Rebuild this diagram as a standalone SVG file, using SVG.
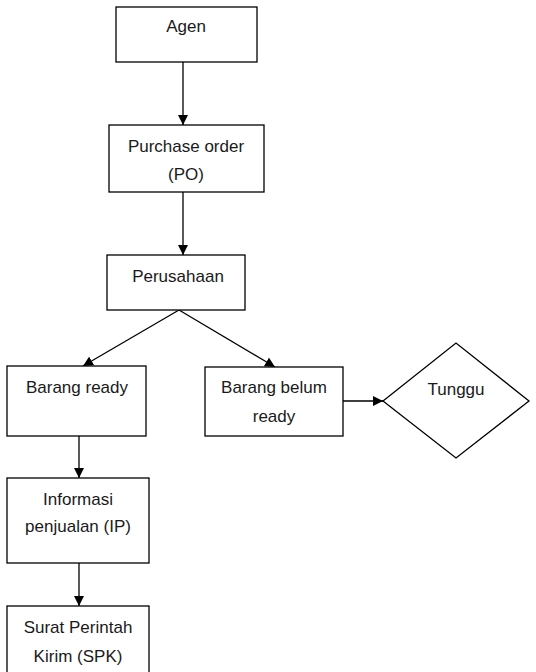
<svg xmlns="http://www.w3.org/2000/svg" width="536" height="672" viewBox="0 0 536 672">
<defs>
<marker id="arr" viewBox="0 0 10 10" refX="10" refY="5" markerWidth="10" markerHeight="10" markerUnits="userSpaceOnUse" orient="auto">
<path d="M0,0 L10,5 L0,10 z" fill="#000"/>
</marker>
<style>
.box{fill:#fff;stroke:#000;stroke-width:1.3}
.t{font-family:"Liberation Sans",Arial,sans-serif;font-size:17px;fill:#1a1a1a;text-anchor:middle}
.c{stroke:#000;stroke-width:1.3;fill:none;marker-end:url(#arr)}
</style>
</defs>
<rect width="536" height="672" fill="#fff"/>
<g id="connectors">
<line class="c" x1="183" y1="62" x2="183" y2="125"/>
<line class="c" x1="183" y1="192" x2="183" y2="255"/>
<line class="c" x1="179" y1="310" x2="83" y2="366"/>
<line class="c" x1="179" y1="310" x2="275" y2="367"/>
<line class="c" x1="343" y1="401" x2="383" y2="401"/>
<line class="c" x1="79" y1="436" x2="79" y2="478"/>
<line class="c" x1="79" y1="563" x2="79" y2="606"/>
</g>
<g id="agen">
<rect class="box" x="116" y="7" width="141" height="55"/>
<text class="t" x="186" y="32">Agen</text>
</g>
<g id="po">
<rect class="box" x="109" y="125" width="155" height="67"/>
<text class="t" x="186" y="152">Purchase order</text>
<text class="t" x="186" y="180">(PO)</text>
</g>
<g id="perusahaan">
<rect class="box" x="107" y="255" width="138" height="55"/>
<text class="t" x="178" y="282">Perusahaan</text>
</g>
<g id="barang-ready">
<rect class="box" x="7" y="366" width="139" height="70"/>
<text class="t" x="77" y="393">Barang ready</text>
</g>
<g id="barang-belum-ready">
<rect class="box" x="205" y="367" width="138" height="69"/>
<text class="t" x="274" y="393">Barang belum</text>
<text class="t" x="274" y="422">ready</text>
</g>
<g id="tunggu">
<polygon class="box" points="383,401 456,343 529,401 456,458"/>
<text class="t" x="456" y="395">Tunggu</text>
</g>
<g id="informasi">
<rect class="box" x="7" y="478" width="142" height="85"/>
<text class="t" x="78" y="505">Informasi</text>
<text class="t" x="78" y="532">penjualan (IP)</text>
</g>
<g id="spk">
<rect class="box" x="7" y="606" width="142" height="80"/>
<text class="t" x="78" y="633">Surat Perintah</text>
<text class="t" x="78" y="662">Kirim (SPK)</text>
</g>
</svg>
